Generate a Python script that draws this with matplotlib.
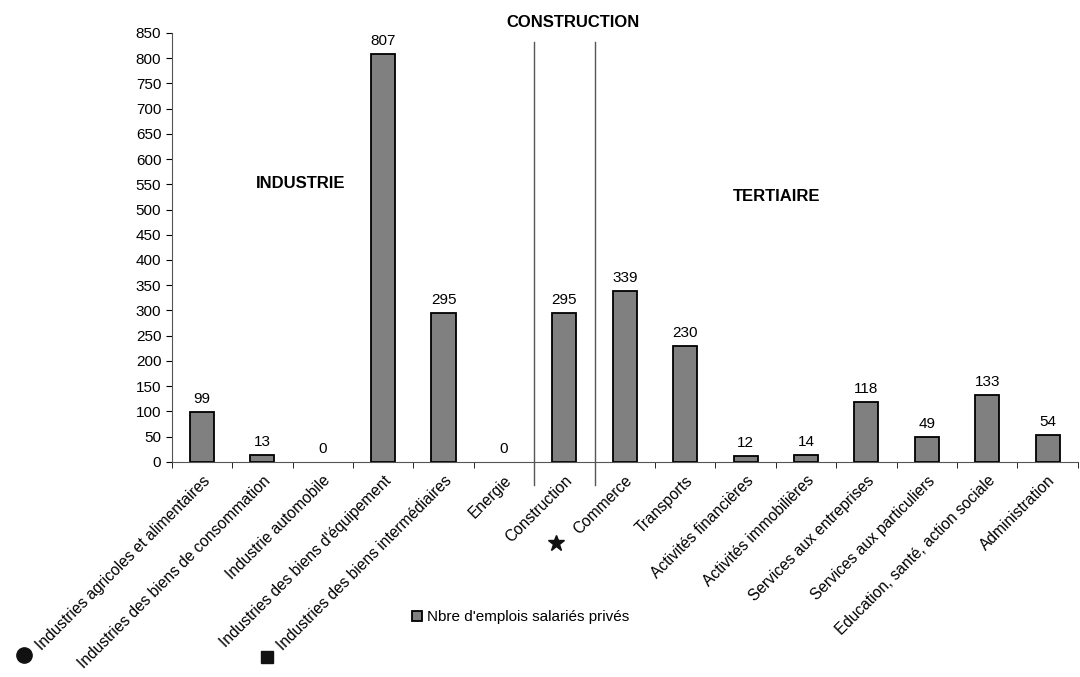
import numpy as np
import matplotlib.pyplot as plt
from matplotlib.lines import Line2D

plt.rcParams['font.family'] = ['Liberation Sans', 'DejaVu Sans']

secteurs = ["Industries agricoles et alimentaires",
            "Industries des biens de consommation",
            "Industrie automobile",
            "Industries des biens d'équipement",
            "Industries des biens intermédiaires",
            "Energie",
            "Construction",
            "Commerce",
            "Transports",
            "Activités financières",
            "Activités immobilières",
            "Services aux entreprises",
            "Services aux particuliers",
            "Education, santé, action sociale",
            "Administration"]
emplois = [99, 13, 0, 807, 295, 0, 295, 339, 230, 12, 14, 118, 49, 133, 54]

fig = plt.figure(figsize=(10.8, 6.77), dpi=100)
ax = fig.add_axes([0.159, 0.3176, 0.839, 0.634])

x = np.arange(len(secteurs))
lw = [0 if v == 0 else 1.3 for v in emplois]
bars = ax.bar(x, emplois, width=0.4, color="#808080", edgecolor="black", linewidth=lw,
              label="Nbre d'emplois salariés privés")
for xi, v in zip(x, emplois):
    ax.text(xi, v + 12, str(v), ha="center", va="bottom", fontsize=11)

ax.set_xlim(-0.5, len(secteurs) - 0.5)
ax.set_ylim(0, 850)
ax.set_yticks(np.arange(0, 851, 50))
ax.tick_params(axis="y", labelsize=11, length=4, direction="out")
ax.set_xticks(x)
ax.set_xticklabels(secteurs, rotation=45, ha="right", rotation_mode="anchor", fontsize=11.2)
ax.tick_params(axis="x", length=0, pad=8)
ax.set_xticks(np.arange(-0.5, len(secteurs), 1), minor=True)
ax.tick_params(axis="x", which="minor", length=4, direction="out")

for s in ["top", "right"]:
    ax.spines[s].set_visible(False)
ax.spines["left"].set_color("#555555")
ax.spines["bottom"].set_color("#555555")

# separators around Construction
for xs in [5.5, 6.5]:
    ax.plot([xs, xs], [-45, 832], color="#555555", linewidth=1, clip_on=False)

ax.text(6.15, 870, "CONSTRUCTION", ha="center", va="center", fontsize=12, fontweight="bold")
ax.text(1.64, 551, "INDUSTRIE", ha="center", va="center", fontsize=12, fontweight="bold")
ax.text(9.52, 525, "TERTIAIRE", ha="center", va="center", fontsize=12, fontweight="bold")

# markers next to some labels
fig.add_artist(Line2D([0.022], [0.032], marker="o", markersize=11, color="#111111",
                      transform=fig.transFigure))
fig.add_artist(Line2D([0.247], [0.029], marker="s", markersize=8, color="#111111",
                      transform=fig.transFigure))
fig.add_artist(Line2D([0.515], [0.198], marker="*", markersize=12, color="#111111",
                      transform=fig.transFigure))

fig.legend(handles=[bars], loc="center", bbox_to_anchor=(0.482, 0.088), frameon=False,
           fontsize=11, handlelength=0.7, handleheight=0.7, handletextpad=0.3)

fig.savefig("out.png", dpi=100)
